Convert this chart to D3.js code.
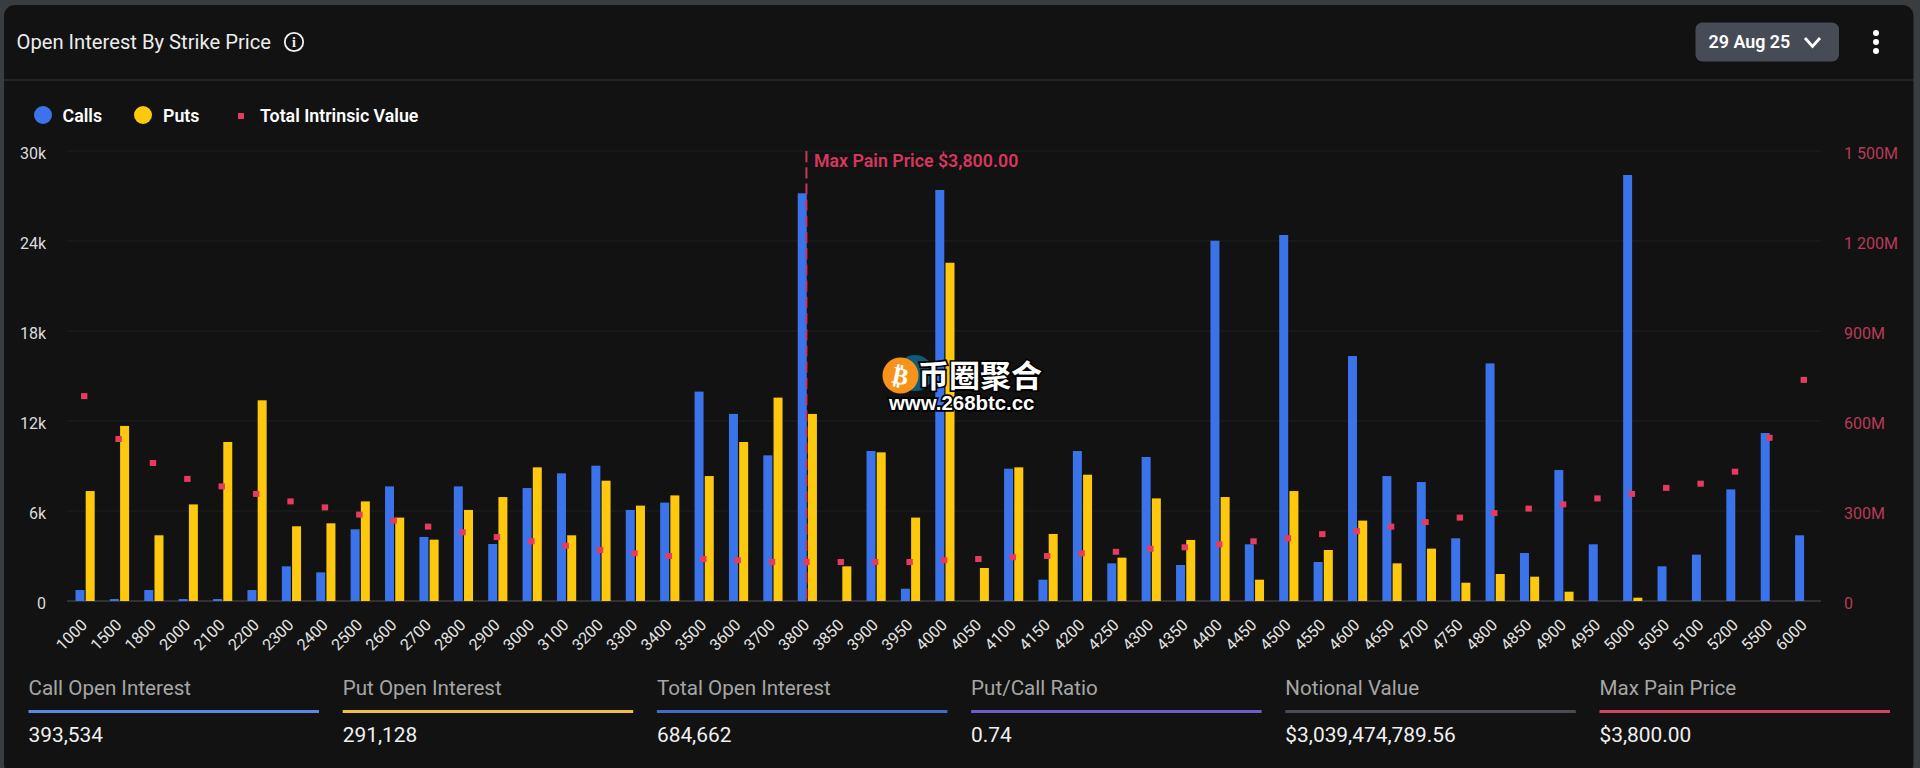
<!DOCTYPE html>
<html>
<head>
<meta charset="utf-8">
<script src="https://cdn.jsdelivr.net/npm/d3@7"></script>
<style>
  html, body { margin: 0; padding: 0; background: #3a3d40; }
  svg { display: block; font-family: Roboto, sans-serif; }
  .axis path, .axis line { display: none; }
  .axis text { font-size: 16px; font-family: Roboto, sans-serif; }
</style>
</head>
<body>
<div id="chart"></div>
<script>
const strikes = ['1000','1500','1800','2000','2100','2200','2300','2400','2500','2600','2700','2800','2900','3000','3100','3200','3300','3400','3500','3600','3700','3800','3850','3900','3950','4000','4050','4100','4150','4200','4250','4300','4350','4400','4450','4500','4550','4600','4650','4700','4750','4800','4850','4900','4950','5000','5050','5100','5200','5500','6000'];

// open interest in contracts
const calls = [730,130,730,130,130,730,2310,1910,4780,7640,4270,7640,3800,7530,8510,9020,6070,6560,13960,12470,9710,27180,0,10000,820,27400,0,8820,1420,10000,2510,9600,2400,24020,3780,24400,2600,16330,8330,7930,4180,15840,3200,8730,3780,28400,2310,3090,7440,11200,4380];
const puts = [7330,11670,4380,6440,10600,13380,4980,5180,6640,5560,4090,6070,6930,8910,4380,8020,6360,7040,8330,10600,13560,12470,2310,9910,5560,22550,2200,8910,4470,8420,2890,6840,4070,6930,1420,7330,3400,5360,2510,3490,1220,1800,1620,620,0,220,0,0,0,0,0];

// total intrinsic value, $M
const intrinsic = [683,540,460,407,382,357,332,312,288,268,248,229,213,199,184,170,159,150,140,136,130,130,130,130,130,136,140,146,150,159,164,174,179,189,199,209,223,233,248,263,278,293,308,322,342,357,377,391,431,544,737];

const leftTicks = [0,6000,12000,18000,24000,30000];
const rightTicks = [0,300,600,900,1200,1500];
const rightTickLabels = ['0','300M','600M','900M','1 200M','1 500M'];

const maxPainStrike = '3800';

const legendItems = ['Calls','Puts','Total Intrinsic Value'];
const statLabels = ['Call Open Interest','Put Open Interest','Total Open Interest','Put/Call Ratio','Notional Value','Max Pain Price'];
const statValues = ['393,534','291,128','684,662','0.74','$3,039,474,789.56','$3,800.00'];
const statColors = ['#5a8ae0','#eebf45','#3f6cc4','#6f5cc8','#4b4b55','#d5455f'];

const BLUE = '#3b74ea';
const YELLOW = '#fdc80e';
const RED = '#e63a60';

const width = 1920, height = 768;
const margin = { top: 151, right: 99, bottom: 167, left: 67 };

const svg = d3.select('#chart').append('svg')
  .attr('width', width)
  .attr('height', height);

// card + header
svg.append('rect')
  .attr('x', 4).attr('y', 5)
  .attr('width', 1909.5).attr('height', 770)
  .attr('rx', 11)
  .attr('fill', '#121212');

svg.append('line')
  .attr('x1', 4).attr('x2', 1913.5)
  .attr('y1', 80).attr('y2', 80)
  .attr('stroke', '#2b2c2d')
  .attr('stroke-width', 1.5);

svg.append('text')
  .attr('x', 16.5).attr('y', 48.5)
  .attr('font-size', 20.2)
  .attr('fill', '#ececec')
  .text('Open Interest By Strike Price');

const info = svg.append('g').attr('transform', 'translate(294,42)');
info.append('circle').attr('r', 9.2).attr('fill', 'none').attr('stroke', '#f2f2f2').attr('stroke-width', 1.8);
info.append('text').attr('y', 5).attr('text-anchor', 'middle').attr('font-size', 14).attr('font-weight', 700).attr('font-family', 'Liberation Serif').attr('fill', '#f2f2f2').text('i');

svg.append('rect')
  .attr('x', 1695.5).attr('y', 22.5)
  .attr('width', 143.5).attr('height', 39)
  .attr('rx', 7)
  .attr('fill', '#474b55');
svg.append('text')
  .attr('x', 1708.5).attr('y', 48)
  .attr('font-size', 17.9).attr('font-weight', 600)
  .attr('fill', '#fff')
  .text('29 Aug 25');
svg.append('path')
  .attr('d', d3.line()([[1805, 38], [1812.5, 46.5], [1820, 38]]))
  .attr('fill', 'none').attr('stroke', '#fff').attr('stroke-width', 2.8);
svg.selectAll('circle.kebab')
  .data([33, 42, 51])
  .join('circle')
  .attr('class', 'kebab')
  .attr('cx', 1876).attr('cy', d => d).attr('r', 3)
  .attr('fill', '#fff');

// scales
const x = d3.scaleBand()
  .domain(strikes)
  .range([margin.left, width - margin.right]);

const sub = d3.scaleBand()
  .domain(['calls', 'puts'])
  .range([-8.7, 10.5])
  .paddingInner(0.12);

const y = d3.scaleLinear()
  .domain([0, 30000])
  .range([height - margin.bottom, margin.top]);

const yRight = d3.scaleLinear()
  .domain([0, 1500])
  .range([height - margin.bottom, margin.top]);

const center = d => x(d) + x.bandwidth() / 2;

// grid
svg.append('g').selectAll('line')
  .data(leftTicks)
  .join('line')
  .attr('x1', margin.left).attr('x2', width - margin.right)
  .attr('y1', d => y(d)).attr('y2', d => y(d))
  .attr('stroke', d => d === 0 ? '#3d3d3d' : '#1d1e1e')
  .attr('stroke-width', d => d === 0 ? 1.5 : 1);

// axes
svg.append('g')
  .attr('class', 'axis')
  .attr('transform', `translate(${margin.left - 21},2)`)
  .call(d3.axisLeft(y).tickValues(leftTicks).tickSize(0).tickPadding(0)
    .tickFormat(d => d === 0 ? '0' : `${d / 1000}k`))
  .selectAll('text')
  .attr('fill', '#dcdcdc');

svg.append('g')
  .attr('class', 'axis')
  .attr('transform', `translate(1844,2)`)
  .call(d3.axisRight(yRight).tickValues(rightTicks).tickSize(0).tickPadding(0)
    .tickFormat((d, i) => rightTickLabels[i]))
  .selectAll('text')
  .attr('fill', '#b83a58');

svg.append('g')
  .attr('class', 'axis')
  .attr('transform', `translate(0,${height - margin.bottom})`)
  .call(d3.axisBottom(x).tickSize(0).tickPadding(0))
  .selectAll('text')
  .attr('fill', '#e4e4e4')
  .attr('text-anchor', 'end')
  .attr('dy', 0)
  .attr('transform', d => `translate(4,25) rotate(-45)`);

// bars
const groups = svg.append('g').selectAll('g')
  .data(strikes)
  .join('g')
  .attr('transform', d => `translate(${center(d)},0)`);

groups.append('rect')
  .attr('x', sub('calls'))
  .attr('width', sub.bandwidth())
  .attr('y', (d, i) => y(calls[i]))
  .attr('height', (d, i) => y(0) - y(calls[i]))
  .attr('fill', BLUE);

groups.append('rect')
  .attr('x', sub('puts'))
  .attr('width', sub.bandwidth())
  .attr('y', (d, i) => y(puts[i]))
  .attr('height', (d, i) => y(0) - y(puts[i]))
  .attr('fill', YELLOW);

// max pain marker
svg.append('line')
  .attr('x1', center(maxPainStrike)).attr('x2', center(maxPainStrike))
  .attr('y1', y(30000)).attr('y2', y(0))
  .attr('stroke', '#c2375f')
  .attr('stroke-width', 2)
  .attr('stroke-dasharray', '11.2 5');

svg.append('text')
  .attr('x', center(maxPainStrike) + 7.5).attr('y', 166.5)
  .attr('font-size', 17.8).attr('font-weight', 600)
  .attr('fill', '#d6375f')
  .text('Max Pain Price $3,800.00');

// intrinsic value squares
svg.append('g').selectAll('rect')
  .data(strikes)
  .join('rect')
  .attr('x', d => center(d) - 3.2)
  .attr('y', (d, i) => yRight(intrinsic[i]) - 3)
  .attr('width', 6.4).attr('height', 6)
  .attr('fill', RED);

// legend
const legend = svg.append('g');
legend.append('circle').attr('cx', 43).attr('cy', 115).attr('r', 9).attr('fill', BLUE);
legend.append('circle').attr('cx', 143).attr('cy', 115).attr('r', 9).attr('fill', YELLOW);
legend.append('rect').attr('x', 238).attr('y', 113).attr('width', 6).attr('height', 6).attr('fill', RED);
legend.selectAll('text')
  .data(legendItems)
  .join('text')
  .attr('x', (d, i) => [62.5, 163, 260][i])
  .attr('y', 122)
  .attr('font-size', 17.8).attr('font-weight', 600)
  .attr('fill', '#fff')
  .text(d => d);

// footer stats
const stat = d3.scaleBand()
  .domain(statLabels)
  .range([28.5, 28.5 + 314.2 * 6]);

const stats = svg.append('g').selectAll('g')
  .data(statLabels)
  .join('g')
  .attr('transform', d => `translate(${stat(d)},0)`);

stats.append('text')
  .attr('y', 695)
  .attr('font-size', 20.6)
  .attr('fill', '#a6a6a6')
  .text(d => d);

stats.append('rect')
  .attr('y', 710).attr('width', 290.5).attr('height', 3)
  .attr('fill', (d, i) => statColors[i]);

stats.append('text')
  .attr('y', 741.5)
  .attr('font-size', 20.9)
  .attr('fill', '#f0f0f0')
  .text((d, i) => statValues[i]);

// site watermark sits over the chart
const mark = svg.append('g');
mark.append('circle').attr('cx', 915).attr('cy', 373).attr('r', 18).attr('fill', '#0f5a78');
mark.append('circle').attr('cx', 900.5).attr('cy', 375.5).attr('r', 18).attr('fill', '#f7931a');
mark.append('text')
  .attr('x', 900.5).attr('y', 384)
  .attr('text-anchor', 'middle')
  .attr('font-size', 24).attr('font-weight', 700)
  .attr('font-family', 'DejaVu Sans')
  .attr('fill', '#fff')
  .attr('transform', 'rotate(12 900.5 375.5)')
  .text('₿');
mark.append('text')
  .attr('x', 918).attr('y', 386.5)
  .attr('font-size', 31).attr('font-weight', 700)
  .attr('font-family', '"Noto Sans CJK SC"')
  .attr('fill', '#fff')
  .attr('stroke', '#000').attr('stroke-width', 3.4).attr('paint-order', 'stroke')
  .text('币圈聚合');
mark.append('text')
  .attr('x', 889).attr('y', 409.5)
  .attr('font-size', 20.4).attr('font-weight', 700)
  .attr('font-family', '"Liberation Sans"')
  .attr('fill', '#fff')
  .attr('stroke', '#000').attr('stroke-width', 3.4).attr('paint-order', 'stroke')
  .text('www.268btc.cc');
</script>
</body>
</html>
